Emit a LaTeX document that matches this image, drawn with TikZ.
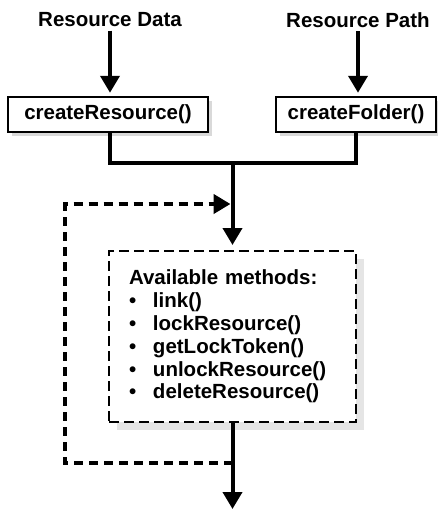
\documentclass[tikz,border=0pt]{standalone}
\usepackage{fontspec}
\setmainfont{Liberation Sans}
\usetikzlibrary{arrows.meta,shadows}

\begin{document}
\begin{tikzpicture}[x=1pt, y=-1pt,
    font=\fontsize{20.5}{22.8}\selectfont\bfseries,
    flow/.style={line width=4pt, -{Triangle[width=19pt,length=17pt]}},
    pipe/.style={line width=4pt},
    callbox/.style={draw, line width=2.5pt, fill=white, minimum height=35pt,
        inner sep=0pt, drop shadow={shadow xshift=4pt, shadow yshift=-4pt, fill=gray!30, opacity=1}},
    loopback/.style={line width=4.5pt, dash pattern=on 9pt off 6pt,
        -{Triangle[width=19pt,length=17pt]}}]
    \useasboundingbox (0,0) rectangle (438,509);

    % Inputs
    \node (data) at (110,20) {Resource Data};
    \node (path) at (358,20) {Resource Path};

    % Create calls
    \node[callbox, minimum width=200pt] (cres) at (108,114.5) {createResource()};
    \node[callbox, minimum width=160pt] (fold) at (356,114.5) {createFolder()};

    \draw[flow, shorten >=3pt] (data.south) -- (data.south |- cres.north);
    \draw[flow, shorten >=3pt] (path.south) -- (path.south |- fold.north);

    % Merge both results
    \coordinate (join) at (232.5,163);
    \draw[pipe] (data.south |- cres.south) |- (join) -| (fold.south);

    % Box of methods
    \node[draw, line width=2pt, dash pattern=on 10pt off 5pt, fill=white,
        minimum width=247pt, minimum height=171pt, text width=207pt,
        inner xsep=20pt, align=left,
        drop shadow={shadow xshift=8pt, shadow yshift=-8pt, fill=gray!20, opacity=1}]
        (avail) at (232.5,336.5) {Available methods:\\
        \makebox[24pt][l]{\textbullet}link()\\
        \makebox[24pt][l]{\textbullet}lockResource()\\
        \makebox[24pt][l]{\textbullet}getLockToken()\\
        \makebox[24pt][l]{\textbullet}unlockResource()\\
        \makebox[24pt][l]{\textbullet}deleteResource()};

    \draw[flow, shorten >=5pt] (join) -- (avail.north);

    % Loop back and exit
    \coordinate (back) at (232.5,463);
    \coordinate (entry) at (232.5,204);
    \coordinate (out) at (232.5,509);
    \draw[loopback, shorten >=2pt] (back) -- ++(-167.5,0) |- (entry);
    \draw[flow] (avail.south) -- (out);
\end{tikzpicture}
\end{document}
